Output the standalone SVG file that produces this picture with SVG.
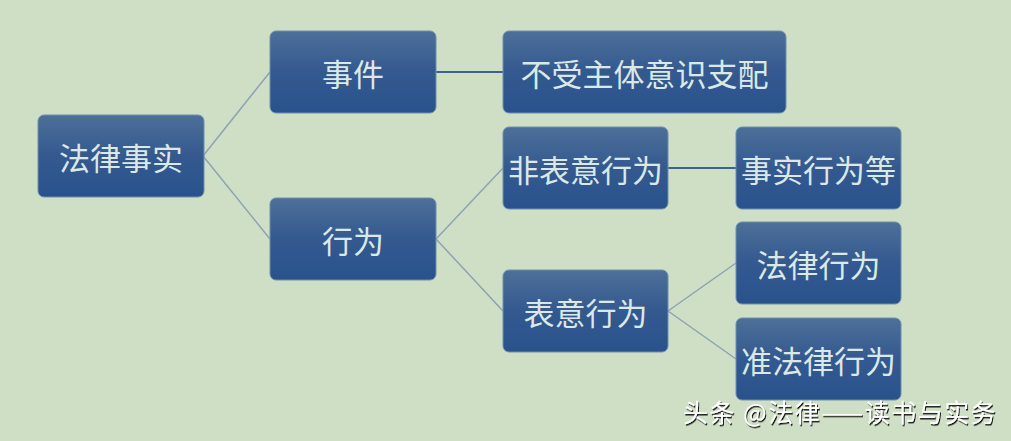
<svg xmlns="http://www.w3.org/2000/svg" width="1011" height="441" viewBox="0 0 1011 441">
<defs>
<linearGradient id="g" x1="0" y1="0" x2="0" y2="1">
<stop offset="0" stop-color="#4d6f99"/>
<stop offset="0.5" stop-color="#34598f"/>
<stop offset="1" stop-color="#29528d"/>
</linearGradient>
<filter id="sh" x="-10%" y="-10%" width="130%" height="140%">
<feDropShadow dx="1" dy="1.5" stdDeviation="0.5" flood-color="#000" flood-opacity="0.9"/>
</filter>
</defs>
<style>
.box{fill:url(#g);stroke:#6f8fae;stroke-width:1}
.t{font-family:"Noto Sans CJK SC","Liberation Sans",sans-serif;font-size:31px;fill:#dbe8e6;text-anchor:middle;dominant-baseline:central}
.c{stroke:#8da3b4;stroke-width:1.5;fill:none}
.h{stroke:#3d6291;stroke-width:2;fill:none}
.wm{font-family:"Noto Sans CJK SC","Liberation Sans",sans-serif;font-size:25px;fill:#ffffff;letter-spacing:1.5px}
</style>
<rect width="1011" height="441" fill="#cfdfc5"/>
<g id="connectors">
<line class="c" x1="203" y1="156" x2="270" y2="72"/>
<line class="c" x1="203" y1="156" x2="270" y2="239"/>
<line class="h" x1="436" y1="72" x2="503" y2="72"/>
<line class="c" x1="436" y1="239" x2="503" y2="168"/>
<line class="c" x1="436" y1="239" x2="503" y2="311"/>
<line class="h" x1="668" y1="168" x2="736" y2="168"/>
<line class="c" x1="668" y1="311" x2="736" y2="263"/>
<line class="c" x1="668" y1="311" x2="736" y2="359"/>
</g>
<g id="n1"><rect class="box" x="38" y="115" width="166" height="82" rx="6"/><text class="t" x="121" y="156">法律事实</text></g>
<g id="n2"><rect class="box" x="270" y="31" width="166" height="82" rx="6"/><text class="t" x="353" y="72">事件</text></g>
<g id="n3"><rect class="box" x="503" y="31" width="283" height="82" rx="6"/><text class="t" x="644.5" y="72">不受主体意识支配</text></g>
<g id="n4"><rect class="box" x="270" y="198" width="166" height="82" rx="6"/><text class="t" x="353" y="239">行为</text></g>
<g id="n5"><rect class="box" x="503" y="127" width="165" height="82" rx="6"/><text class="t" x="585.5" y="168">非表意行为</text></g>
<g id="n6"><rect class="box" x="736" y="127" width="165" height="82" rx="6"/><text class="t" x="818.5" y="168">事实行为等</text></g>
<g id="n7"><rect class="box" x="503" y="270" width="165" height="82" rx="6"/><text class="t" x="585.5" y="311">表意行为</text></g>
<g id="n8"><rect class="box" x="736" y="222" width="165" height="82" rx="6"/><text class="t" x="818.5" y="263">法律行为</text></g>
<g id="n9"><rect class="box" x="736" y="318" width="165" height="82" rx="6"/><text class="t" x="818.5" y="359">准法律行为</text></g>
<text class="wm" x="683" y="422" filter="url(#sh)">头条 @法律——读书与实务</text>
</svg>
